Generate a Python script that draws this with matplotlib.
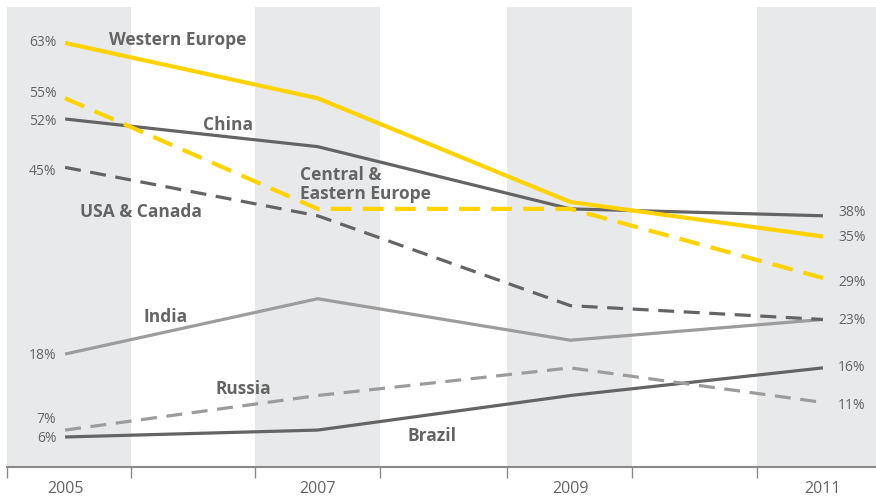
import matplotlib
matplotlib.use("Agg")
import matplotlib.pyplot as plt

years = [2005, 2007, 2009, 2011]
western_europe = [63, 55, 40, 35]
central_eastern_europe = [55, 39, 39, 29]
china = [52, 48, 39, 38]
usa_canada = [45, 38, 25, 23]
india = [18, 26, 20, 23]
russia = [7, 12, 16, 11]
brazil = [6, 7, 12, 16]

left_labels = ["63%", "55%", "52%", "45%", "18%", "7%", "6%"]
right_labels = ["38%", "35%", "29%", "23%", "16%", "11%"]

YELLOW = "#FFD200"
DARK = "#646464"
LIGHT = "#9c9c9c"
BAND = "#E8E9EB"
TEXT = "#646464"

fig = plt.figure(figsize=(8.76, 4.99), dpi=100)
ax = fig.add_axes([7/876, 1-467/499, 1-7/876, (467-7)/499])
ax.set_xlim(2004.54, 2011.42)
ax.set_ylim(1.66, 68.2)

bands = [(2004.54, 2005.52), (2006.50, 2007.49), (2008.50, 2009.49), (2010.48, 2011.42)]
for a, b in bands:
    ax.axvspan(a, b, color=BAND, lw=0, zorder=0)

def line(vals, color, lw, dashes=None):
    l, = ax.plot(years, vals, color=color, lw=lw, solid_capstyle="butt",
                 solid_joinstyle="miter", zorder=3)
    if dashes:
        l.set_dashes(dashes)
        l.set_dash_capstyle("butt")
    return l

line(brazil, DARK, 2.3)
line(russia, LIGHT, 2.3, (5, 3))
line(india, LIGHT, 2.3)
line(usa_canada, DARK, 2.3, (5, 3))
line(china, DARK, 2.3)
line(central_eastern_europe, YELLOW, 3.0, (5, 2.7))
line(western_europe, YELLOW, 3.0)

lab_font = dict(family=["Open Sans", "DejaVu Sans"], fontweight="bold", fontsize=12.5, color=TEXT)
ax.text(2005.35, 63.4, "Western Europe", ha="left", va="center", **lab_font)
ax.text(2006.09, 51.2, "China", ha="left", va="center", **lab_font)
ax.text(2006.86, 42.5, "Central &\nEastern Europe", ha="left", va="center", linespacing=1.05, **lab_font)
ax.text(2005.12, 38.5, "USA & Canada", ha="left", va="center", **lab_font)
ax.text(2005.62, 23.4, "India", ha="left", va="center", **lab_font)
ax.text(2006.19, 13.0, "Russia", ha="left", va="center", **lab_font)
ax.text(2007.71, 6.1, "Brazil", ha="left", va="center", **lab_font)

val_font = dict(family=["Open Sans", "DejaVu Sans"], fontsize=10, color=TEXT)
left_pos = [63.1, 55.7, 51.7, 44.4, 17.8, 8.6, 5.8]
for t, v in zip(left_labels, left_pos):
    ax.text(2004.93, v, t, ha="right", va="center", **val_font)
right_pos = [38.5, 34.8, 28.4, 22.9, 16.0, 10.6]
for t, v in zip(right_labels, right_pos):
    ax.text(2011.12, v, t, ha="left", va="center", **val_font)

for s in ["top", "right", "left"]:
    ax.spines[s].set_visible(False)
ax.spines["bottom"].set_color("#8a8a8a")
ax.spines["bottom"].set_linewidth(1.5)
ax.set_yticks([])
edges = [2004.54, 2005.52, 2006.50, 2007.49, 2008.50, 2009.49, 2010.48]
ax.set_xticks(edges)
ax.set_xticklabels([])
ax.tick_params(axis="x", length=8, width=1.0, color="#8a8a8a", direction="out")
for y in years:
    ax.text(y, -0.047, str(y), transform=ax.get_xaxis_transform(), ha="center", va="center",
            family=["Open Sans", "DejaVu Sans"], fontsize=11.5, color=TEXT)

fig.savefig("out.png", dpi=100)
